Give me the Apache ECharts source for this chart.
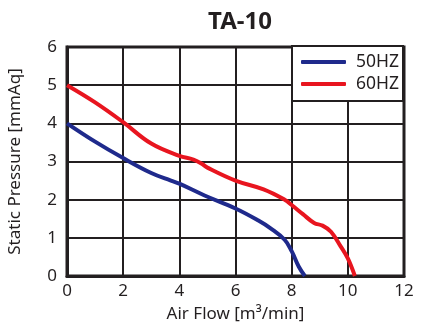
<!DOCTYPE html>
<html><head><meta charset="utf-8">
<script src="https://cdn.jsdelivr.net/npm/echarts@6/dist/echarts.min.js"></script>
<style>html,body{margin:0;padding:0;background:#fff}#c{width:423px;height:325px}</style>
</head><body><div id="c"></div>
<script>
const title = 'TA-10';
const seriesNames = ['50HZ', '60HZ'];
const flow50 = [0, 1, 2, 3, 3.7, 4, 4.9, 6, 6.8, 7.25, 7.75, 8, 8.25, 8.47];
const pres50 = [4, 3.52, 3.09, 2.7, 2.5, 2.42, 2.11, 1.77, 1.46, 1.25, 0.95, 0.65, 0.25, 0];
const flow60 = [0, 1, 2, 3, 4, 4.5, 4.8, 5, 6, 7, 7.75, 8, 8.4, 8.8, 9.1, 9.4, 9.75, 10, 10.25];
const pres60 = [5, 4.55, 4.03, 3.47, 3.15, 3.05, 2.94, 2.84, 2.5, 2.27, 2.0, 1.86, 1.62, 1.39, 1.32, 1.16, 0.77, 0.46, 0];
const xName = 'Air Flow [m³/min]';
const yName = 'Static Pressure [mmAq]';
const colors = ['#1f2a8c', '#e8151f'];
const font = 'Noto Sans';
const ink = '#231f20';

const chart = echarts.init(document.getElementById('c'), null, {renderer: 'canvas'});
const pair = (xs, ys) => xs.map((x, i) => [x, ys[i]]);
chart.setOption({
  animation: false,
  title: {text: title, left: 235, textAlign: 'center', top: 5,
    textStyle: {fontFamily: font, fontSize: 24, fontWeight: 'bold', color: ink}},
  grid: {left: 67, right: 19, top: 47, bottom: 49, show: true, borderColor: ink, borderWidth: 3, z: 3,
    outerBoundsMode: 'none', containLabel: false},
  legend: {
    data: seriesNames, orient: 'vertical', right: 20, top: 46,
    backgroundColor: '#fff', borderColor: ink, borderWidth: 2, borderRadius: 0,
    padding: [6, 4, 7, 9], itemGap: 2, itemWidth: 45, itemHeight: 4, icon: 'roundRect',
    textStyle: {fontFamily: font, fontSize: 17.5, lineHeight: 20, color: ink, padding: [0, 0, 0, 5]}
  },
  xAxis: {
    type: 'value', min: 0, max: 12, interval: 2,
    name: xName, nameLocation: 'middle', nameGap: 30,
    nameTextStyle: {fontFamily: font, fontSize: 17, color: ink},
    axisLine: {show: true, lineStyle: {color: ink, width: 3}},
    axisTick: {show: false},
    axisLabel: {fontFamily: font, fontSize: 17, color: ink, margin: 7},
    splitLine: {show: true, lineStyle: {color: ink, width: 2}}
  },
  yAxis: {
    type: 'value', min: 0, max: 6, interval: 1,
    name: yName, nameLocation: 'middle', nameGap: 43, nameRotate: 90,
    nameTextStyle: {fontFamily: font, fontSize: 17, color: ink},
    axisLine: {show: true, lineStyle: {color: ink, width: 3}},
    axisTick: {show: false},
    axisLabel: {fontFamily: font, fontSize: 17, color: ink, margin: 10},
    splitLine: {show: true, lineStyle: {color: ink, width: 2}}
  },
  series: [
    {name: seriesNames[0], type: 'line', data: pair(flow50, pres50), smooth: 0.4, showSymbol: false,
      lineStyle: {color: colors[0], width: 4}, itemStyle: {color: colors[0]}, z: 4},
    {name: seriesNames[1], type: 'line', data: pair(flow60, pres60), smooth: 0.4, showSymbol: false,
      lineStyle: {color: colors[1], width: 4}, itemStyle: {color: colors[1]}, z: 4}
  ]
});
</script></body></html>
